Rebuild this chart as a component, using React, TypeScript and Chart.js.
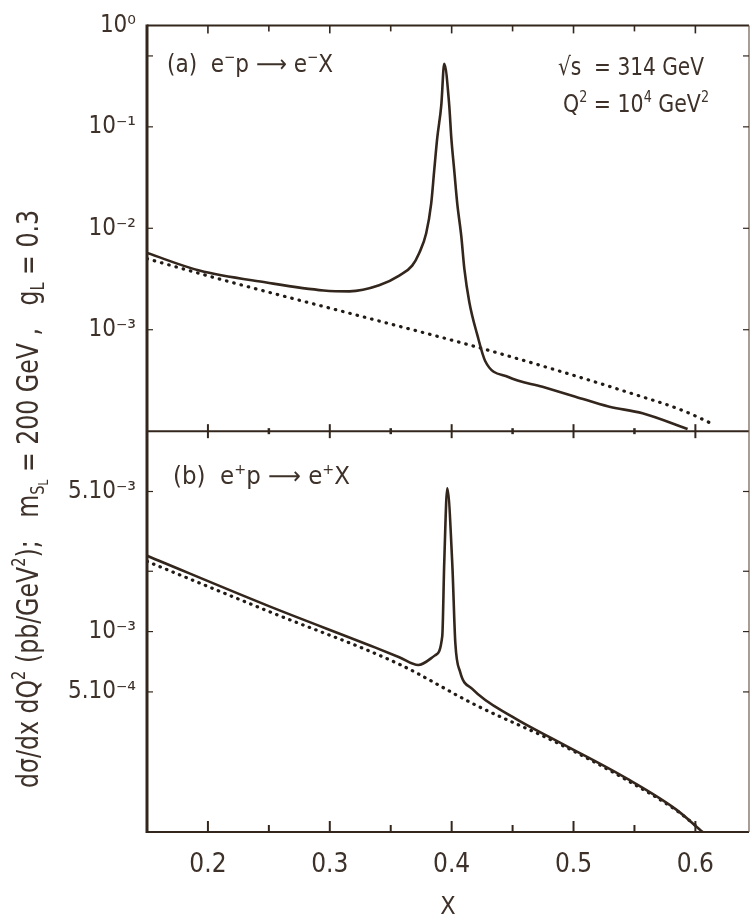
import React, { useEffect, useRef } from "react";
import { Chart, registerables } from "chart.js";

Chart.register(...registerables);

const FONT = '"Liberation Sans Narrow", "DejaVu Sans Condensed", Roboto, sans-serif';
const INK = "#33261d";
const TEXT = "#3d3129";

// ---- axes ----
const X_MIN = 0.15;
const X_MAX = 0.644;
const xTickValues = [0.2, 0.3, 0.4, 0.5, 0.6];
const xTickLabels = ["0.2", "0.3", "0.4", "0.5", "0.6"];
const xMinorTicks = [0.25, 0.35, 0.45, 0.55];

const yTopMin = 1e-4;
const yTopMax = 1;
const yTopTickValues = [1, 0.1, 0.01, 0.001];
const yTopTickLabels = ["10⁰", "10⁻¹", "10⁻²", "10⁻³"];
const yTopFrameTicks = [0.5, 0.1, 0.01, 0.001];

const yBotMin = 1e-4;
const yBotMax = 1e-2;
const yBotTickValues = [5e-3, 1e-3, 5e-4];
const yBotTickLabels = ["5.10⁻³", "10⁻³", "5.10⁻⁴"];
const yBotFrameTicks = [5e-3, 2e-3, 1e-3, 5e-4];

// ---- (a) e-p -> e-X ----
const aSolidX = [0.150, 0.193, 0.248, 0.295, 0.316, 0.3405, 0.357, 0.3676, 0.3734, 0.3791, 0.3832, 0.3857, 0.3882, 0.3915, 0.3939, 0.398, 0.3997, 0.4021, 0.4046, 0.4079, 0.4104, 0.4145, 0.421, 0.4276, 0.4465, 0.4745, 0.5016, 0.5287, 0.5566, 0.5936];
const aSolidY = [5.71e-3, 3.83e-3, 2.92e-3, 2.44e-3, 2.39e-3, 2.74e-3, 3.42e-3, 4.28e-3, 5.71e-3, 8.93e-3, 1.75e-2, 3.74e-2, 7.82e-2, 0.164, 0.418, 0.164, 7.82e-2, 3.74e-2, 1.75e-2, 8.36e-3, 4.0e-3, 1.87e-3, 8.93e-4, 4.89e-4, 3.42e-4, 2.74e-4, 2.19e-4, 1.75e-4, 1.5e-4, 1.05e-4];
const aDottedX = [0.150, 0.220, 0.337, 0.419, 0.4885, 0.5435, 0.5895, 0.616];
const aDottedY = [5.01e-3, 2.92e-3, 1.25e-3, 6.84e-4, 3.91e-4, 2.44e-4, 1.6e-4, 1.15e-4];

// ---- (b) e+p -> e+X ----
const bSolidX = [0.150, 0.250, 0.337, 0.357, 0.3726, 0.3865, 0.3923, 0.3939, 0.3964, 0.4005, 0.403, 0.407, 0.4169, 0.450, 0.4885, 0.5435, 0.5838, 0.606];
const bSolidY = [2.39e-3, 1.34e-3, 8.34e-4, 7.45e-4, 6.81e-4, 7.62e-4, 9.5e-4, 2.19e-3, 5.18e-3, 2.19e-3, 8.8e-4, 6.28e-4, 5.18e-4, 3.75e-4, 2.8e-4, 1.85e-4, 1.3e-4, 1.0e-4];
const bDottedX = [0.150, 0.250, 0.357, 0.419, 0.4885, 0.5435, 0.5838, 0.6025];
const bDottedY = [2.24e-3, 1.26e-3, 6.87e-4, 4.32e-4, 2.75e-4, 1.82e-4, 1.29e-4, 1.05e-4];

const toPoints = (xs: number[], ys: number[]) => xs.map((x, i) => ({ x, y: ys[i] }));

type Run = { t: string; k?: number };

function drawRuns(ctx: CanvasRenderingContext2D, runs: Run[], cx: number, cy: number, size: number, targetW: number | null, align: "left" | "center") {
  const scaleFor = (k = 0) => (k === 0 ? 1 : k === 3 ? 0.45 : 0.62);
  const off = (k = 0) => (k === 1 ? -0.42 * size : k === 2 ? 0.2 * size : k === 3 ? 0.34 * size : 0);
  const widths = runs.map((r) => {
    ctx.font = `${size * scaleFor(r.k)}px ${FONT}`;
    return ctx.measureText(r.t).width;
  });
  const W = widths.reduce((a, b) => a + b, 0);
  const sx = targetW ? targetW / W : 1;
  const startX = align === "center" ? cx - (W * sx) / 2 : cx;
  ctx.save();
  ctx.translate(startX, cy + 0.36 * size);
  ctx.scale(sx, 1);
  ctx.textBaseline = "alphabetic";
  ctx.textAlign = "left";
  ctx.fillStyle = TEXT;
  let cur = 0;
  runs.forEach((r, i) => {
    ctx.font = `${size * scaleFor(r.k)}px ${FONT}`;
    ctx.fillText(r.t, cur, off(r.k));
    cur += widths[i];
  });
  ctx.restore();
}

const labelA: Run[] = [{ t: "(a)  e" }, { t: "−", k: 1 }, { t: "p ⟶ e" }, { t: "−", k: 1 }, { t: "X" }];
const labelS: Run[] = [{ t: "√s  = 314 GeV" }];
const labelQ: Run[] = [{ t: "Q" }, { t: "2", k: 1 }, { t: " = 10" }, { t: "4", k: 1 }, { t: " GeV" }, { t: "2", k: 1 }];
const labelB: Run[] = [{ t: "(b)  e" }, { t: "+", k: 1 }, { t: "p ⟶ e" }, { t: "+", k: 1 }, { t: "X" }];
const yTitle: Run[] = [
  { t: "dσ/dx dQ" }, { t: "2", k: 1 }, { t: " (pb/GeV" }, { t: "2", k: 1 }, { t: ");   m" },
  { t: "S", k: 2 }, { t: "L", k: 3 }, { t: " = 200 GeV ,   g" }, { t: "L", k: 2 }, { t: " = 0.3" },
];

const framePlugin = {
  id: "frame",
  afterDraw(chart: any) {
    const ctx: CanvasRenderingContext2D = chart.ctx;
    const x = chart.scales.x;
    const yA = chart.scales.yA;
    const yB = chart.scales.yB;
    const L = x.left, R = x.right, T = yA.top, M = yA.bottom, B = yB.bottom;
    const line = (x1: number, y1: number, x2: number, y2: number, w: number, c = INK) => {
      ctx.beginPath();
      ctx.strokeStyle = c;
      ctx.lineWidth = w;
      ctx.moveTo(x1, y1);
      ctx.lineTo(x2, y2);
      ctx.stroke();
    };
    ctx.save();
    line(L, T, R, T, 2);
    line(L, M, R, M, 2);
    line(L, B, R, B, 2);
    line(R, T, R, B, 1.2, "#6b5d52");
    line(L, T - 1, L, B + 1, 3);
    xTickValues.forEach((v) => {
      const px = x.getPixelForValue(v);
      line(px, T, px, T + 8, 1.6);
      line(px, M - 7, px, M + 7, 2);
      line(px, B, px, B - 11, 2);
    });
    xMinorTicks.forEach((v) => {
      const px = x.getPixelForValue(v);
      line(px, T, px, T + 6, 1.6);
      line(px, M - 3, px, M + 3, 2.5);
      line(px, B, px, B - 7, 2);
    });
    yTopFrameTicks.forEach((v) => {
      const py = yA.getPixelForValue(v);
      line(L, py, L + 6, py, 1.2);
      line(R, py, R - 6, py, 1.2);
    });
    yBotFrameTicks.forEach((v) => {
      const py = yB.getPixelForValue(v);
      line(L, py, L + 6, py, 1.2);
      line(R, py, R - 6, py, 1.2);
    });
    drawRuns(ctx, labelA, 167, 63, 24, 166, "left");
    drawRuns(ctx, labelS, 558, 66, 25, 146, "left");
    drawRuns(ctx, labelQ, 563, 103, 25, 146, "left");
    drawRuns(ctx, labelB, 173, 475, 24, 177, "left");
    ctx.save();
    ctx.translate(27, 499);
    ctx.rotate(-Math.PI / 2);
    drawRuns(ctx, yTitle, 0, 0, 30, 578, "center");
    ctx.restore();
    ctx.restore();
  },
};

const solidStyle = {
  borderColor: INK,
  borderWidth: 2.6,
  pointRadius: 0,
  cubicInterpolationMode: "monotone" as const,
  fill: false,
};
const dottedStyle = {
  borderColor: "#221a14",
  borderWidth: 3.2,
  borderDash: [0.5, 7],
  borderCapStyle: "round" as const,
  pointRadius: 0,
  cubicInterpolationMode: "monotone" as const,
  fill: false,
};

export default function App() {
  const ref = useRef<HTMLCanvasElement>(null);
  useEffect(() => {
    const chart = new Chart(ref.current as HTMLCanvasElement, {
      type: "line",
      data: {
        datasets: [
          { label: "(a) e−p → e−X", data: toPoints(aSolidX, aSolidY), yAxisID: "yA", ...solidStyle },
          { label: "(a) background", data: toPoints(aDottedX, aDottedY), yAxisID: "yA", ...dottedStyle },
          { label: "(b) e+p → e+X", data: toPoints(bSolidX, bSolidY), yAxisID: "yB", ...solidStyle },
          { label: "(b) background", data: toPoints(bDottedX, bDottedY), yAxisID: "yB", ...dottedStyle, borderDash: [0.5, 6.5] },
        ],
      } as any,
      options: {
        responsive: false,
        maintainAspectRatio: false,
        animation: false,
        devicePixelRatio: 1,
        layout: { padding: { top: 15, right: 3, left: 0, bottom: 0 } },
        plugins: { legend: { display: false }, tooltip: { enabled: false }, title: { display: false } },
        scales: {
          x: {
            type: "linear",
            min: X_MIN,
            max: X_MAX,
            grid: { display: false, drawTicks: false },
            border: { display: false },
            afterBuildTicks: (s: any) => {
              s.ticks = xTickValues.map((v) => ({ value: v }));
            },
            afterFit: (s: any) => {
              s.height = 90;
            },
            ticks: {
              autoSkip: false,
              maxRotation: 0,
              padding: 18,
              color: TEXT,
              font: { family: FONT, size: 26 },
              callback: (_v: any, i: number) => xTickLabels[i],
            },
            title: { display: true, text: "X", color: TEXT, font: { family: FONT, size: 25 }, padding: { top: 0, bottom: 0 } },
          },
          yB: {
            type: "logarithmic",
            position: "left",
            stack: "panels",
            stackWeight: 406,
            min: yBotMin,
            max: yBotMax,
            grid: { display: false, drawTicks: false },
            border: { display: false },
            afterBuildTicks: (s: any) => {
              s.ticks = yBotTickValues.map((v) => ({ value: v }));
            },
            afterFit: (s: any) => {
              s.width = 147;
            },
            ticks: {
              autoSkip: false,
              padding: 11,
              color: TEXT,
              font: { family: FONT, size: 24 },
              callback: (_v: any, i: number) => yBotTickLabels[i],
            },
          },
          yA: {
            type: "logarithmic",
            position: "left",
            stack: "panels",
            stackWeight: 411,
            min: yTopMin,
            max: yTopMax,
            grid: { display: false, drawTicks: false },
            border: { display: false },
            afterBuildTicks: (s: any) => {
              s.ticks = yTopTickValues.map((v) => ({ value: v }));
            },
            afterFit: (s: any) => {
              s.width = 147;
            },
            ticks: {
              autoSkip: false,
              padding: 11,
              color: TEXT,
              font: { family: FONT, size: 24 },
              callback: (_v: any, i: number) => yTopTickLabels[i],
            },
          },
        },
      } as any,
      plugins: [framePlugin],
    });
    return () => chart.destroy();
  }, []);
  return (
    <div style={{ position: "fixed", left: 0, top: 0, width: 752, height: 922, background: "#ffffff" }}>
      <canvas ref={ref} width={752} height={922} style={{ display: "block", width: 752, height: 922 }} />
    </div>
  );
}
